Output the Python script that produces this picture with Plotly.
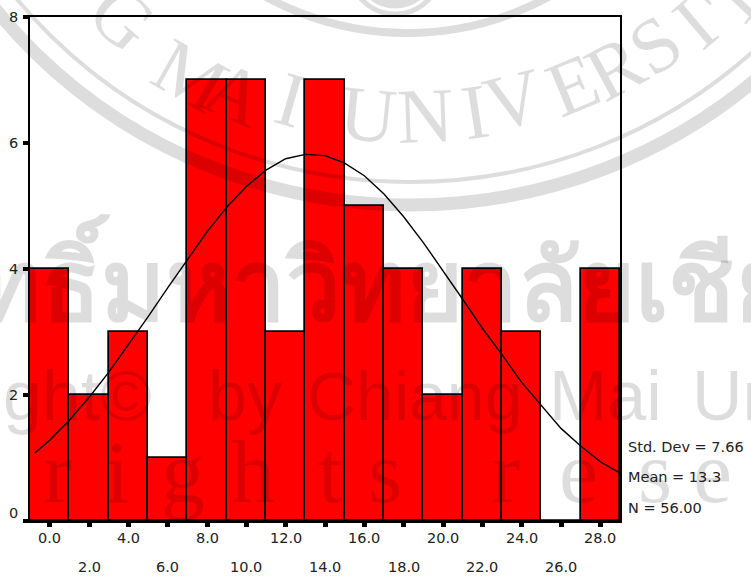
import math
import plotly.graph_objects as go

bin_centers = [0, 2, 4, 6, 8, 10, 12, 14, 16, 18, 20, 22, 24, 26, 28]
counts = [4, 2, 3, 1, 7, 7, 3, 7, 5, 4, 2, 4, 3, 0, 4]
tick_top = [0, 4, 8, 12, 16, 20, 24, 28]
tick_bottom = [2, 6, 10, 14, 18, 22, 26]
y_ticks = [0, 2, 4, 6, 8]
curve_x = [-0.75, 0, 1, 2, 3, 4, 5, 6, 7, 8, 9, 10, 11, 12, 13, 14, 15, 16, 17, 18, 19, 20, 21, 22, 23, 24, 25, 26, 27, 28, 29]
curve_y = [1.08, 1.28, 1.6, 1.96, 2.36, 2.79, 3.24, 3.7, 4.14, 4.59, 4.98, 5.31, 5.57, 5.75, 5.82, 5.8, 5.68, 5.48, 5.19, 4.83, 4.42, 3.98, 3.52, 3.06, 2.64, 2.2, 1.84, 1.47, 1.19, 0.94, 0.76]
stats = ["Std. Dev = 7.66", "Mean = 13.3", "N = 56.00"]
W, H = 751, 577
L, R, T, B = 29.5, 620, 17, 521
FONT = "DejaVu Sans"
TXT = "#222222"
WM = "rgba(0,0,0,0.135)"

def px(x): return (x - L) / (R - L)
def py(y): return (B - y) / (B - T)

fig = go.Figure()
fig.add_trace(go.Bar(x=bin_centers, y=counts, width=2, marker=dict(color="#ff0000", line=dict(color="black", width=1.7)), showlegend=False))
fig.add_trace(go.Scatter(x=curve_x, y=curve_y, mode="lines", line=dict(color="black", width=1.4), showlegend=False))

ann = []
for vals, yy in [(tick_top, 538), (tick_bottom, 567)]:
    for t in vals:
        ann.append(dict(x=t, xref="x", y=py(yy), yref="paper", yanchor="middle", xanchor="center", text=f"{t:.1f}", showarrow=False, font=dict(family=FONT, size=14.5, color=TXT)))
for v in y_ticks:
    ann.append(dict(x=px(13), xref="paper", y=v, yref="y", yanchor="middle", xanchor="center", yshift=8 if v == 0 else 0, text=str(v), showarrow=False, font=dict(family=FONT, size=14.5, color=TXT)))
for s, yy in zip(stats, [447, 477, 508]):
    ann.append(dict(x=px(626), xref="paper", y=py(yy), yref="paper", xanchor="left", yanchor="middle", text=s, showarrow=False, font=dict(family=FONT, size=14.5, color=TXT)))

# watermark
def wm(xp, yp, text, size, fam="Liberation Serif", angle=0, anchor="center"):
    ann.append(dict(x=px(xp), y=py(yp), xref="paper", yref="paper", text=text, showarrow=False, textangle=angle, xanchor=anchor, yanchor="middle", font=dict(family=fam, size=size, color=WM)))

wm(-27, 281, "<b>ทธิ์มหาวิทยาลัยเชีย</b>", 98, "Noto Sans", anchor="left")
wm(0, 396, "ght©", 70, "Liberation Sans", anchor="left")
wm(245, 396, "by", 70, "Liberation Sans")
wm(415, 396, "Chiang", 68, "Liberation Sans")
wm(605, 396, "Mai", 70, "Liberation Sans")
wm(690, 396, "Un", 70, "Liberation Sans", anchor="left")
for ch, xp in zip("rightsrese", [57, 117, 183, 253, 330, 385, 505, 578, 655, 713]):
    wm(xp, 472, ch, 88, "Liberation Serif")

CX, CY = 410, -313
arc_letters = [("G", 122, 18), ("M", 190, 75), ("A", 235, 93), ("I", 291, 100), ("U", 368, 115), ("N", 425, 116),
               ("I", 475, 111), ("V", 513, 100), ("E", 573, 85), ("R", 615, 68), ("S", 655, 44), ("I", 695, 24), ("T", 735, -2)]
for ch, xp, yp in arc_letters:
    a = math.degrees(math.atan2(xp - CX, yp - CY))
    wm(xp, yp, ch, 78, "Liberation Serif", -a)

shapes = []
def ring(cx, cy, rx, ry, w):
    shapes.append(dict(type="circle", xref="paper", yref="paper", x0=px(cx - rx), x1=px(cx + rx), y0=py(cy + ry), y1=py(cy - ry), line=dict(color=WM, width=w), fillcolor="rgba(0,0,0,0)", layer="above"))
ring(CX, CY, 530, 518, 13)
ring(CX, CY, 507, 495, 4)
ring(407, -262, 295, 295, 8)
ring(395, -32, 46, 46, 5)
ring(395, -32, 36, 36, 9)

fig.update_layout(
    width=W, height=H, paper_bgcolor="white", plot_bgcolor="white", bargap=0,
    margin=dict(l=L, r=W - R, t=T, b=H - B, pad=0), annotations=ann, shapes=shapes,
    xaxis=dict(range=[-1, 29], tickvals=bin_centers, ticks="outside", ticklen=4, tickwidth=5, tickcolor="black", showticklabels=False, showgrid=False, zeroline=False, showline=True, mirror=True, linecolor="black", linewidth=2),
    yaxis=dict(range=[0, 8], tickvals=y_ticks, ticks="outside", ticklen=5, tickwidth=4, tickcolor="black", showticklabels=False, showgrid=False, zeroline=False, showline=True, mirror=True, linecolor="black", linewidth=2),
)
fig.write_html("out.html", config=dict(displayModeBar=False), post_script="document.body.style.margin='0';")
